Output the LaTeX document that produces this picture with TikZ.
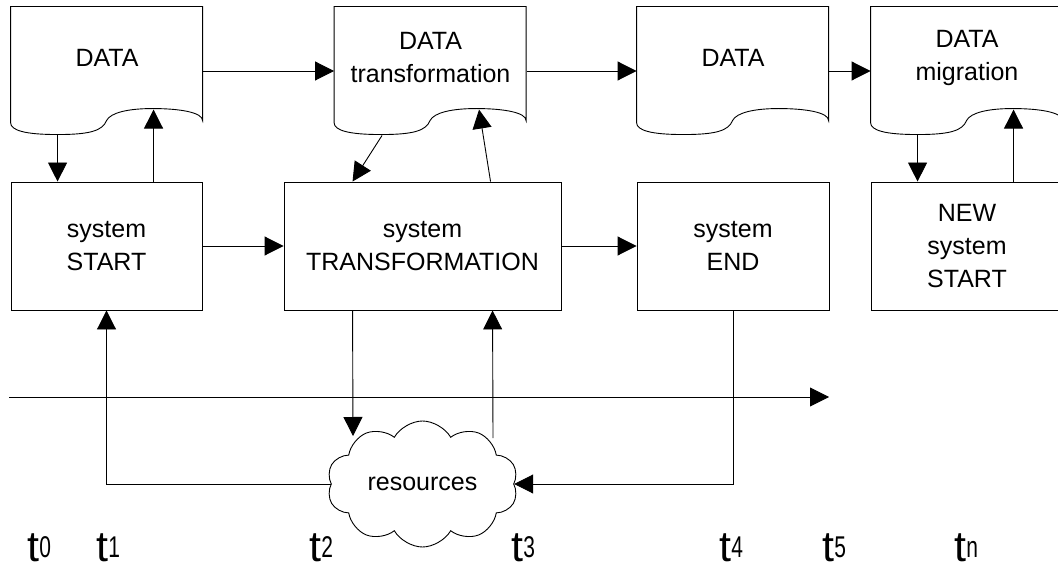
\documentclass[tikz,border=0pt]{standalone}
\usepackage{fontspec}
\setmainfont{Liberation Sans}
\usepackage{graphicx}
\usetikzlibrary{arrows.meta,shapes.symbols,calc}
\newcommand{\tsub}[1]{t\raisebox{4pt}{\fontsize{30}{30}\selectfont\scalebox{0.7}[1]{#1}}}
\tikzset{
  docshape/.pic={\draw (0,116) -- (0,0) -- (192,0) -- (192,114)
     .. controls (192,106) and (170,102) .. (142,102)
     .. controls (118,102) and (100,106) .. (96,114)
     .. controls (92,124) and (80,128) .. (47,128)
     .. controls (15,128) and (0,124) .. (0,116);}
}
\begin{document}
\begin{tikzpicture}[x=1pt,y=-1pt,
  line width=0.9pt,
  arr/.style={-{Triangle[length=19pt,width=19pt]}},
  sysbox/.style={draw, rectangle, minimum width=191pt, minimum height=128pt, inner sep=0pt, align=center, font=\fontsize{25}{33}\selectfont},
  docarea/.style={rectangle, minimum width=192pt, minimum height=128pt, inner sep=0pt},
  doctext/.style={align=center, inner sep=0pt, font=\fontsize{25}{33}\selectfont},
  tlab/.style={anchor=base west, inner sep=0pt, font=\fontsize{43}{43}\selectfont}
]
\useasboundingbox (0,0) rectangle (1058,564);
\clip (0,0) rectangle (1058,564);

% documents
\node[docarea] (d1) at (107,71) {};
\node[docarea] (d2) at (430.5,71) {};
\node[docarea] (d3) at (733,71) {};
\node[docarea] (d4) at (967,71) {};
\pic at (d1.north west) {docshape};
\pic at (d2.north west) {docshape};
\pic at (d3.north west) {docshape};
\pic at (d4.north west) {docshape};
\node[doctext] (d1t) at ($(d1.center)+(0,-13)$) {DATA};
\node[doctext] (d2t) at ($(d2.center)+(0,-13)$) {DATA\\transformation};
\node[doctext] (d3t) at ($(d3.center)+(0,-13)$) {DATA};
\node[doctext] (d4t) at ($(d4.center)+(0,-13)$) {DATA\\migration};

% systems
\node[sysbox] (start) at (106.5,246) {system\\START};
\node[sysbox, minimum width=277pt] (trans) at (422.5,246) {system\\TRANSFORMATION};
\node[sysbox, minimum width=192pt] (end) at (733,246) {system\\END};
\node[sysbox, minimum width=192pt] (new) at (967,246) {NEW\\system\\START};

% resources
\node[cloud, draw, cloud puffs=10, cloud puff arc=120, cloud ignores aspect,
      minimum width=191pt, minimum height=126pt, inner sep=0pt,
      font=\fontsize{25}{30}\selectfont] (cloud) at (422.5,484) {resources};

% horizontal connectors
\draw[arr] (d1.east) -- (d2.west);
\draw[arr] (d2.east) -- (d3.west);
\draw[arr] (d3.east) -- (d4.west);
\draw[arr] (start.east) -- (trans.west);
\draw[arr] (trans.east) -- (end.west);

% document <-> system
\draw[arr] ($(d1.south west)+(47,0)$) -- ($(start.north west)+(47,0)$);
\draw[arr] ($(start.north west)+(143,0)$) -- ($(d1.north west)+(143,103)$);
\draw[arr] ($(d2.south west)+(48,0)$) -- ($(trans.north west)+(69,0)$);
\draw[arr] ($(trans.north west)+(207,0)$) -- ($(d2.north west)+(145,103)$);
\draw[arr] ($(d4.south west)+(47,0)$) -- ($(new.north west)+(47,0)$);
\draw[arr] ($(new.north west)+(143,0)$) -- ($(d4.north west)+(143,103)$);

% resources connectors
\coordinate (cin) at (353,436);
\coordinate (cout) at (493,438);
\draw[arr] ($(trans.south west)+(69,0)$) -- (cin);
\draw[arr] (cout) -- ($(trans.south west)+(209,0)$);
\draw[arr] (cloud.west) -| (start.south);
\draw[arr] (end.south) |- (cloud.east);

% time line
\coordinate (ta) at (9,397);
\coordinate (tb) at (829,397);
\draw[arr] (ta) -- (tb);

% time labels
\node[tlab] (t0) at (27,561) {\tsub{0}};
\node[tlab] (t1) at (96,561) {\tsub{1}};
\node[tlab] (t2) at (309,561) {\tsub{2}};
\node[tlab] (t3) at (511,561) {\tsub{3}};
\node[tlab] (t4) at (719,561) {\tsub{4}};
\node[tlab] (t5) at (822,561) {\tsub{5}};
\node[tlab] (tn) at (954,561) {\tsub{n}};
\end{tikzpicture}
\end{document}
